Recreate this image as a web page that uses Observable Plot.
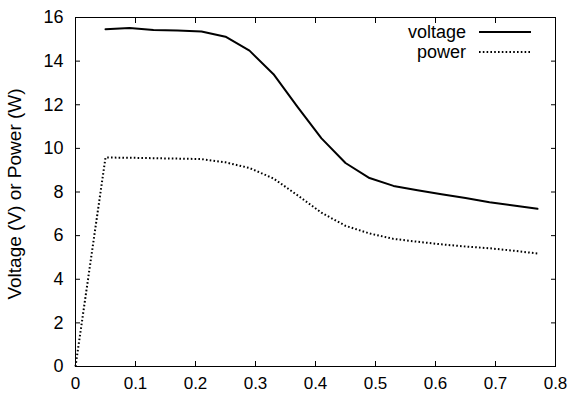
<!DOCTYPE html>
<html>
<head>
<meta charset="utf-8">
<script src="https://cdn.jsdelivr.net/npm/d3@7"></script>
<script src="https://cdn.jsdelivr.net/npm/@observablehq/plot@0.6"></script>
<style>
  html, body { margin: 0; padding: 0; background: #fff; }
  #chart svg { display: block; font-family: "Liberation Sans", Arial, Helvetica, sans-serif; }
</style>
</head>
<body>
<div id="chart"></div>
<script>
// ---- data ----
const voltX = [0.05,0.09,0.13,0.17,0.21,0.25,0.29,0.33,0.37,0.41,0.45,0.49,0.53,0.57,0.61,0.65,0.69,0.73,0.77];
const voltage = [15.46,15.52,15.43,15.40,15.36,15.12,14.48,13.40,11.90,10.46,9.33,8.64,8.28,8.08,7.90,7.72,7.53,7.38,7.23];
const powerX = [0,0.05,0.09,0.13,0.17,0.21,0.25,0.29,0.33,0.37,0.41,0.45,0.49,0.53,0.57,0.61,0.65,0.69,0.73,0.77];
const power = [0,9.58,9.57,9.55,9.53,9.51,9.36,9.10,8.62,7.85,7.05,6.45,6.10,5.85,5.72,5.60,5.50,5.42,5.31,5.18];
const xTicks = [0,0.1,0.2,0.3,0.4,0.5,0.6,0.7,0.8];
const yTicks = [0,2,4,6,8,10,12,14,16];
const seriesNames = ["voltage","power"];
const yLabel = "Voltage (V) or Power (W)";

const voltRows = voltX.map((x, i) => ({x, y: voltage[i]}));
const powerRows = powerX.map((x, i) => ({x, y: power[i]}));
const fmt = d => d === 0 ? "0" : String(d);

const plot = Plot.plot({
  width: 569,
  height: 396,
  marginLeft: 75,
  marginRight: 14,
  marginTop: 17,
  marginBottom: 30,
  style: {fontSize: "18px", fontFamily: "'Liberation Sans', Arial, Helvetica, sans-serif", color: "#000", background: "#fff"},
  x: {domain: [0, 0.8]},
  y: {domain: [0, 16]},
  marks: [
    Plot.frame({stroke: "#000", strokeWidth: 1}),
    Plot.axisX({ticks: xTicks, tickSize: -5, tickPadding: 15, tickFormat: fmt, label: null, fontSize: 17}),
    Plot.axisX({anchor: "top", ticks: xTicks, tickSize: -5, tickFormat: () => "", label: null}),
    Plot.axisY({ticks: yTicks, tickSize: -5, tickPadding: 17, tickFormat: fmt, label: null, fontSize: 18}),
    Plot.axisY({anchor: "right", ticks: yTicks, tickSize: -5, tickFormat: () => "", label: null}),
    Plot.line(voltRows, {x: "x", y: "y", stroke: "#000", strokeWidth: 2}),
    Plot.line(powerRows, {x: "x", y: "y", stroke: "#000", strokeWidth: 2, strokeDasharray: "1.6,2.2", strokeLinecap: "butt"})
  ]
});

const svg = d3.select(plot);
// y axis title
svg.append("text")
  .attr("transform", `translate(21,194) rotate(-90)`)
  .attr("text-anchor", "middle")
  .attr("font-size", 19)
  .attr("fill", "#000")
  .text(yLabel);

// legend
const legend = svg.append("g").attr("font-size", 18).attr("fill", "#000");
seriesNames.forEach((name, i) => {
  const cy = 32 + i * 20;
  legend.append("text")
    .attr("x", 466).attr("y", cy).attr("dy", "0.32em")
    .attr("text-anchor", "end")
    .text(name);
  legend.append("line")
    .attr("x1", 479).attr("x2", 531).attr("y1", cy).attr("y2", cy)
    .attr("stroke", "#000").attr("stroke-width", 2)
    .attr("stroke-dasharray", i === 1 ? "1.6,2.2" : null);
});

document.getElementById("chart").appendChild(plot);
</script>
</body>
</html>
